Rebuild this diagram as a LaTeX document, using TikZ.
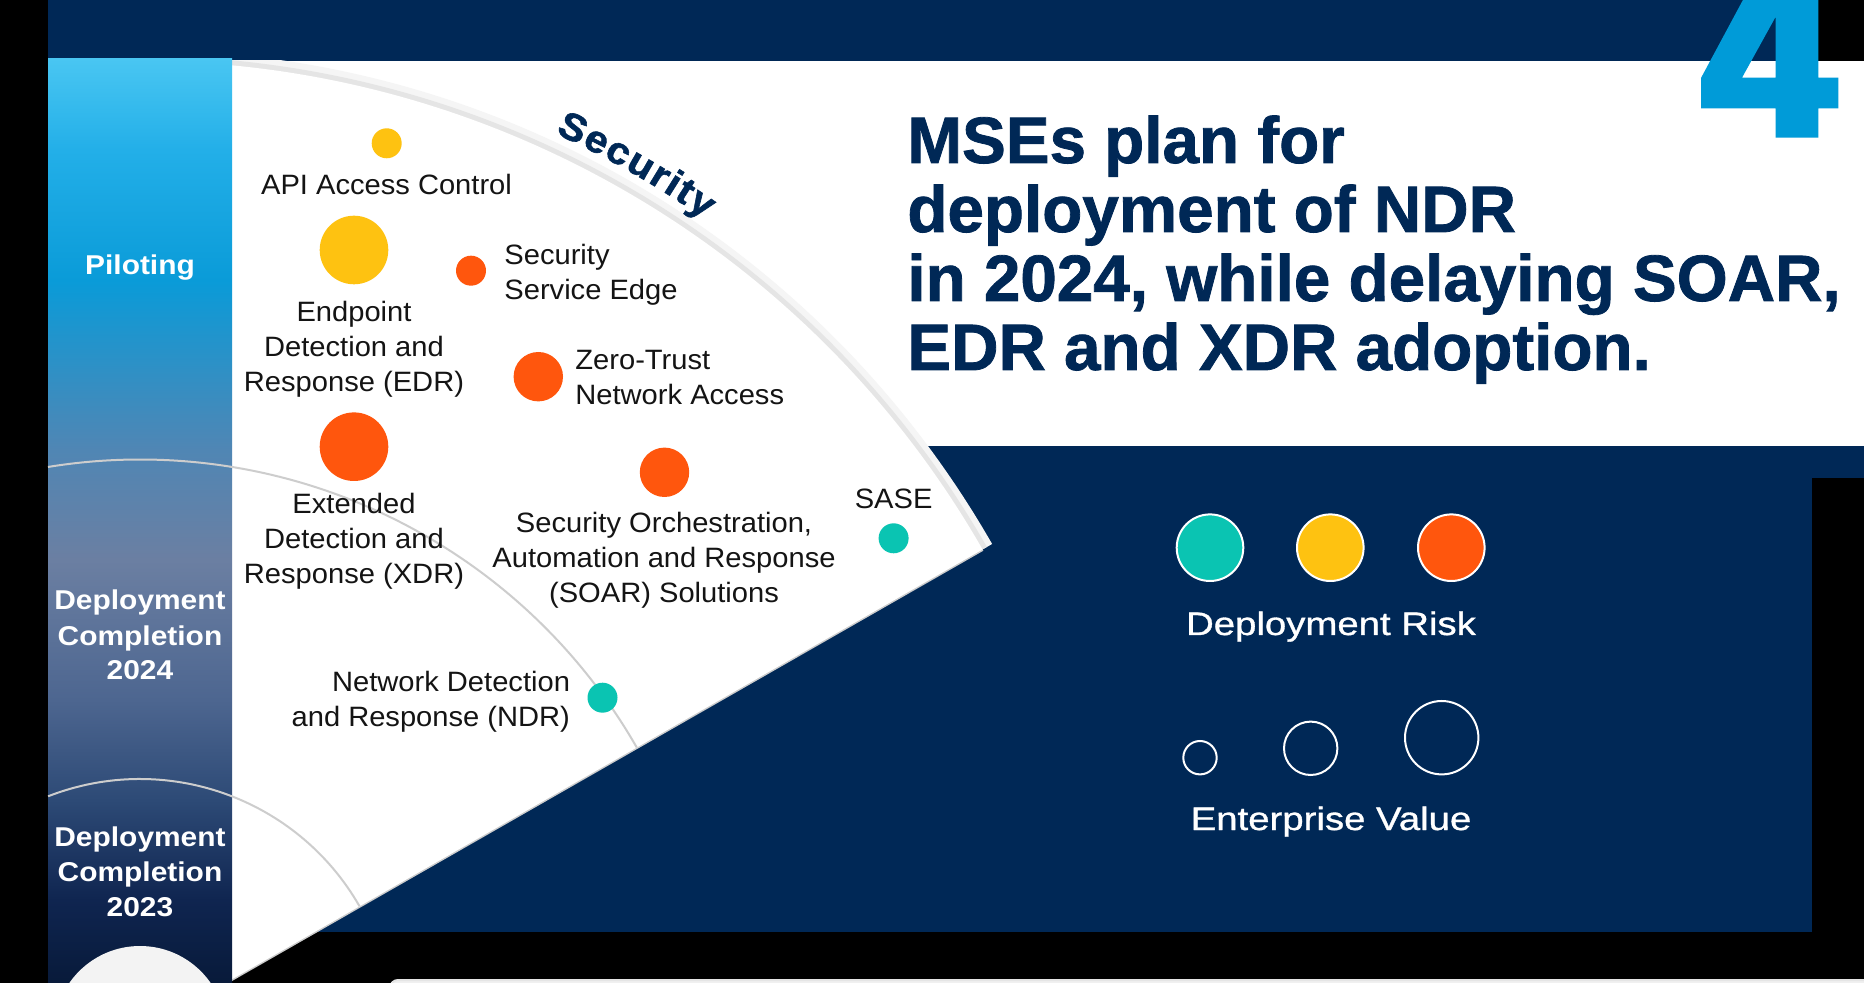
\documentclass[tikz,border=0pt]{standalone}
\usepackage{fontspec}
\setmainfont{Liberation Sans}
\newfontfamily\lblfont[FakeStretch=1.04]{Liberation Sans}
\newfontfamily\sidefont[FakeStretch=1.1]{Liberation Sans}
\newfontfamily\secfont[FakeStretch=1.08,FakeBold=1.5]{Liberation Sans}
\newfontfamily\legfont[FakeStretch=1.18,FakeBold=1]{Liberation Sans}
\newfontfamily\ttlfont[FakeBold=1.2]{Liberation Sans}
\usetikzlibrary{decorations.text}
\definecolor{navy}{RGB}{0,40,86}
\definecolor{teal4}{RGB}{10,196,178}
\definecolor{yel4}{RGB}{254,194,17}
\definecolor{org4}{RGB}{255,86,13}
\definecolor{blue4}{RGB}{0,155,216}
\definecolor{arcgray}{RGB}{205,205,205}
\definecolor{txt}{RGB}{20,20,20}
\definecolor{circfill}{RGB}{243,243,243}
\definecolor{b1}{RGB}{73,198,242}
\definecolor{b2}{RGB}{35,175,232}
\definecolor{b3}{RGB}{10,155,216}
\definecolor{b4}{RGB}{80,134,180}
\definecolor{b5}{RGB}{107,127,162}
\definecolor{b6}{RGB}{77,102,144}
\definecolor{b7}{RGB}{45,74,118}
\definecolor{b8}{RGB}{15,37,80}
\definecolor{b9}{RGB}{8,26,58}
\pgfdeclareverticalshading{barshade}{100bp}{color(0bp)=(b9); color(25bp)=(b9); color(29.49bp)=(b8); color(34.9bp)=(b7); color(40.31bp)=(b6); color(47.89bp)=(b5); color(53.84bp)=(b4); color(63bp)=(b3); color(70.08bp)=(b2); color(75bp)=(b1); color(100bp)=(b1)}
\begin{document}
\begin{tikzpicture}[x=0.5pt,y=-0.5pt,
  lbl/.style={font=\lblfont\fontsize{14pt}{17.5pt}\selectfont, text=txt, inner sep=0pt},
  side/.style={font=\sidefont\bfseries\fontsize{13.6pt}{17.5pt}\selectfont, text=white, inner sep=0pt, align=center, anchor=base},
  ttl/.style={font=\ttlfont\bfseries\fontsize{32.8pt}{34.5pt}\selectfont, text=navy, inner sep=0pt, anchor=base west},
  leg/.style={font=\legfont\fontsize{16.25pt}{18pt}\selectfont, text=white, inner sep=0pt, anchor=base},
  dot/.style={circle, inner sep=0pt, draw=none},
  legdot/.style={circle, inner sep=0pt, draw=white, line width=1pt, minimum size=33.3pt},
  ring/.style={circle, inner sep=0pt, draw=white, line width=1pt},
  arcline/.style={draw=arcgray, line width=1pt}]
\useasboundingbox (0,0) rectangle (1864,983);
\clip (0,0) rectangle (1864,983);
% backgrounds
\fill[black] (0,0) rectangle (1864,983);
\fill[navy] (48,0) rectangle (1818,61);
\fill[white] (232,61) rectangle (1864,446);
\fill[navy] (232,446) rectangle (1812,932);
\fill[navy] (1812,446) rectangle (1864,478);
\draw[draw=white!80!gray, fill=white!88!gray, line width=1pt, rounded corners=4pt] (390,980) rectangle (1900,1030);
% fan
\begin{scope}
\clip (232,61) rectangle (1864,983);
\begin{scope}[shift={(140,1032)}]
\draw[gray!8, line width=6pt] (-29.8:976) arc[start angle=-29.8, end angle=-95, radius=976];
\draw[gray!20, line width=3pt] (-29.8:973) arc[start angle=-29.8, end angle=-95, radius=973];
\draw[gray!40, line width=1.5pt] (0,0) -- (-29.8:971);
\fill[white] (0,0) -- (-29.8:971) arc[start angle=-29.8, end angle=-95, radius=971] -- cycle;
\end{scope}
\end{scope}
% side bar
\shade[shading=barshade] (48,59) rectangle (232,983);
\begin{scope}[shift={(140,1032)}]
\draw[arcline] (-99.25:572.5) arc[start angle=-99.25, end angle=-29.8, radius=572.5];
\draw[arcline] (-111.3:253) arc[start angle=-111.3, end angle=-29.8, radius=253];
\fill[circfill] (0,0) circle[radius=86];
\path[decorate, decoration={text along path, text align={fit to path}, text color=navy,
  text={|\secfont\bfseries\fontsize{19pt}{20pt}\selectfont|Security}}]
  (-65.2:990) arc[start angle=-65.2, end angle=-55.2, radius=990];
\end{scope}
\node[side] (pil) at (140,275) {Piloting};
\node[side] (d24) at (140,680) {Deployment\\Completion\\2024};
\node[side] (d23) at (140,916.7) {Deployment\\Completion\\2023};
% dots
\node[dot, fill=yel4, minimum size=15pt] (api) at (386.7,143.3) {};
\node[dot, fill=yel4, minimum size=34.3pt] (edr) at (354,250) {};
\node[dot, fill=org4, minimum size=15pt] (sse) at (471,270.7) {};
\node[dot, fill=org4, minimum size=24.7pt] (ztna) at (538.3,376.7) {};
\node[dot, fill=org4, minimum size=34.3pt] (xdr) at (354,446.7) {};
\node[dot, fill=org4, minimum size=24.7pt] (soar) at (664.5,472.3) {};
\node[dot, fill=teal4, minimum size=15pt] (sase) at (893.6,538.3) {};
\node[dot, fill=teal4, minimum size=15pt] (ndr) at (602.5,697.7) {};
% labels (base anchor = baseline of last line)
\node[lbl, anchor=base] (apil) at (386.5,195) {API Access Control};
\node[lbl, anchor=base, align=center] (edrl) at (354,391.7) {Endpoint\\Detection and\\Response (EDR)};
\node[lbl, anchor=base west, align=left] (ssel) at (504,299.3) {Security\\Service Edge};
\node[lbl, anchor=base west, align=left] (ztnal) at (575,405) {Zero-Trust\\Network Access};
\node[lbl, anchor=base, align=center] (xdrl) at (354,584) {Extended\\Detection and\\Response (XDR)};
\node[lbl, anchor=base, align=center] (soarl) at (664,602.7) {Security Orchestration,\\Automation and Response\\(SOAR) Solutions};
\node[lbl, anchor=base] (sasel) at (893.6,508.3) {SASE};
\node[lbl, anchor=base east, align=right] (ndrl) at (570.4,726.7) {Network Detection\\and Response (NDR)};
% title
\node[ttl] (t1) at (907,163) {MSEs plan for};
\node[ttl] (t2) at (907,232) {deployment of NDR};
\node[ttl] (t3) at (907,301) {in 2024, while delaying SOAR,};
\node[ttl] (t4) at (907,370) {EDR and XDR adoption.};
% the 4
\fill[blue4, even odd rule] (1744,-2) -- (1818.3,-2) -- (1818.3,77.7) -- (1838.3,77.7) -- (1838.3,108.3) -- (1818.3,108.3) -- (1818.3,137.7) -- (1775.7,137.7) -- (1775.7,108.3) -- (1701,108.3) -- (1701,78) -- cycle
  (1775.7,16.7) -- (1775.7,77.7) -- (1742,77.7) -- cycle;
% legend
\node[legdot, fill=teal4] (lr1) at (1210,547.7) {};
\node[legdot, fill=yel4] (lr2) at (1330.3,547.7) {};
\node[legdot, fill=org4] (lr3) at (1451.3,547.7) {};
\node[leg] (lrisk) at (1331,635) {Deployment Risk};
\node[ring, minimum size=16.7pt] (lv1) at (1200,757.7) {};
\node[ring, minimum size=26.7pt] (lv2) at (1310.7,748.3) {};
\node[ring, minimum size=36.7pt] (lv3) at (1441.7,737.7) {};
\node[leg] (lval) at (1331,830) {Enterprise Value};
\end{tikzpicture}
\end{document}
